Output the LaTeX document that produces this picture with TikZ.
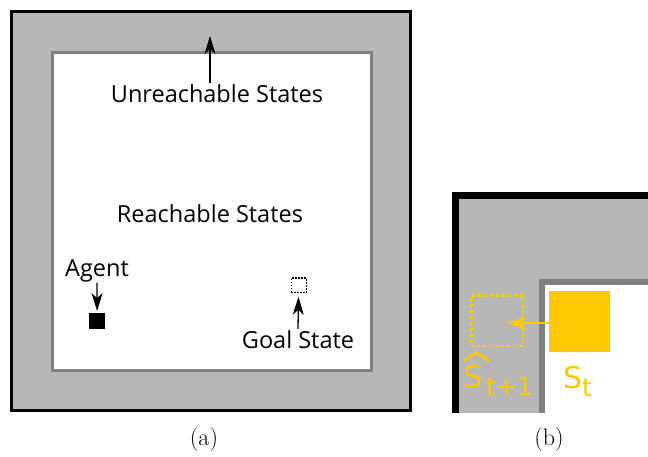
\documentclass[tikz,border=0pt]{standalone}
\usepackage{fontspec}
\usepackage{xcolor}
\usepackage{tikz}
\usetikzlibrary{arrows.meta,calc}
\newfontfamily\labelfont{Open Sans}
\newfontfamily\statefont{DejaVu Sans}
\definecolor{wallgray}{RGB}{183,183,183}
\definecolor{edgegray}{RGB}{128,128,128}
\definecolor{stateyellow}{RGB}{255,200,0}
\newcommand{\statesub}[1]{\raisebox{-8pt}{\fontsize{25}{25}\selectfont #1}}
\tikzstyle{tsLabel} = [ 
    text=black, 
    font=\labelfont\fontsize{23.5}{28}\selectfont,
    inner sep=1pt
]
\tikzstyle{tsCaption} = [ 
    text=black, 
    font=\rmfamily\fontsize{24}{28}\selectfont
]
\tikzstyle{tsArrow} = [ 
    -{Stealth[length=18pt,width=11pt,inset=5pt]},
    line width=1.3pt
]
\tikzstyle{tsState} = [ 
    text=stateyellow, 
    font=\statefont\fontsize{30}{34}\selectfont,
    inner sep=0pt
]

\begin{document}
\begin{tikzpicture}[x=1pt, y=-1pt]
        \useasboundingbox (0,0) rectangle (648,456);

        % (a) whole world
        \draw[line width=3.5pt, fill=wallgray] (11.7,11.7) rectangle (410.3,410.3);
        \draw[edgegray, line width=3pt, fill=white] (52,52) rectangle (371,370);

        \coordinate (wallpt) at (210,36);
        \node[tsLabel, anchor=base] (unreach) at (217,102) {Unreachable States};
        \node[tsLabel, anchor=base] (reach) at (210,222) {Reachable States};
        \node[tsLabel, anchor=base] (agent) at (97,276) {Agent};
        \node[tsLabel, anchor=base] (goal) at (298,348) {Goal State};

        \node[fill=black, minimum size=16.5pt, inner sep=0pt] (agentbox) at (97.2,321) { };
        \node[draw=black, line width=1.2pt, dash pattern=on 1.5pt off 1.5pt,
              minimum size=14.8pt, inner sep=0pt] (goalbox) at (298.7,285.3) { };

        \draw[tsArrow] (unreach.north -| wallpt) -- (wallpt);
        \draw[tsArrow, shorten >=1.5pt] (agent.south) -- (agentbox);
        \draw[tsArrow, shorten >=3.5pt] (goal.north) -- (goalbox);

        % (b) corner close-up
        \fill[wallgray] (459,199) rectangle (648,413);
        \draw[line width=7.6pt] (455.5,413) -- (455.5,195.5) -- (648,195.5);
        \fill[white] (545,285) rectangle (648,413);
        \draw[edgegray, line width=6.3pt] (542,413) -- (542,282) -- (648,282);

        \node[fill=stateyellow, minimum size=61pt, inner sep=0pt] (st) at (579.5,321.5) { };
        \node[draw=stateyellow, line width=2.5pt, dash pattern=on 3pt off 3pt,
              minimum width=51.5pt, minimum height=50.5pt, inner sep=0pt] (stnext) at (497,320.5) { };
        \coordinate (nexttip) at (507,323);
        \draw[stateyellow, line width=1.5pt, -{Stealth[length=20pt,width=13pt,inset=7pt]}]
              (st.west |- nexttip) -- (nexttip);

        \node[tsState, anchor=base west] (stlbl) at (563,388) {S\statesub{t}};
        \node[tsState, anchor=base west] (stnextlbl) at (463,387) {S\kern4pt\statesub{t+1}};
        \draw[stateyellow, line width=2.5pt]
              ($(stnextlbl.base west)+(1,-26)$) -- ($(stnextlbl.base west)+(13.5,-34.5)$)
              -- ($(stnextlbl.base west)+(26,-26)$);

        \node[tsCaption] (capa) at (204,440) {(a)};
        \node[tsCaption] (capb) at (549,440) {(b)};
\end{tikzpicture}
\end{document}
